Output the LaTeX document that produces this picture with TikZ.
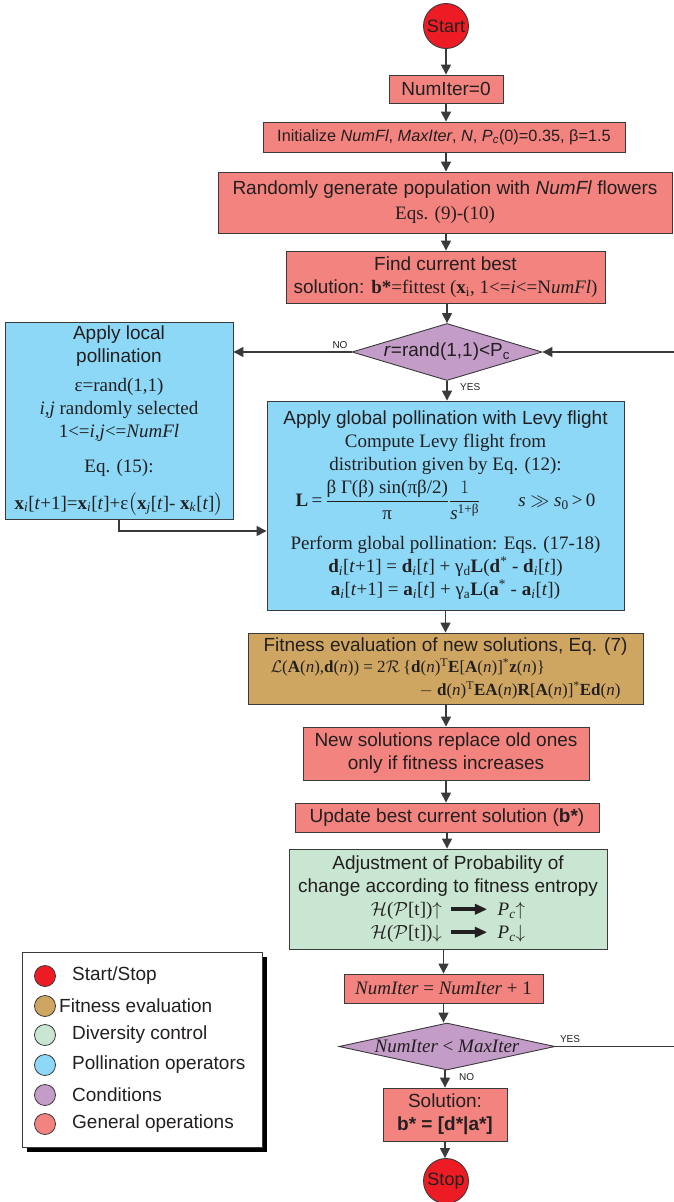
\RequirePackage{fix-cm}
\documentclass[tikz,border=0pt]{standalone}
\usepackage{amsmath,amssymb}
\usepackage{fontspec}
\setmainfont{Liberation Serif}
\setsansfont{Liberation Sans}
\newfontfamily\tms{Liberation Serif}
\usetikzlibrary{shapes.geometric,arrows.meta,calc}
\definecolor{genC}{RGB}{242,131,126}
\definecolor{pollC}{RGB}{140,216,246}
\definecolor{fitC}{RGB}{207,166,97}
\definecolor{divC}{RGB}{200,230,210}
\definecolor{condC}{RGB}{195,156,200}
\definecolor{termC}{RGB}{237,28,36}
\definecolor{lineC}{RGB}{58,58,58}
\definecolor{txt}{RGB}{35,31,32}
\newcommand\fatarrow{\rule[0.25em]{26pt}{3.2pt}\kern-4pt\raisebox{0.02em}{$\blacktriangleright$}}
\tikzset{
  base/.style={draw=lineC, line width=0.9pt, text=txt, font=\sffamily\fontsize{19}{23}\selectfont, align=center, inner sep=2pt},
  genop/.style={base, rectangle, fill=genC},
  poll/.style={base, rectangle, fill=pollC},
  fitbox/.style={base, rectangle, fill=fitC},
  divbox/.style={base, rectangle, fill=divC},
  condbox/.style={base, diamond, fill=condC, inner sep=0pt},
  term/.style={base, circle, fill=termC, minimum size=45pt, inner sep=0pt, font=\sffamily\fontsize{18}{20}\selectfont},
  flow/.style={line width=1.5pt, draw=lineC, -{Triangle[width=10pt,length=10pt]}},
  lab/.style={font=\sffamily\fontsize{10}{12}\selectfont, text=txt, inner sep=1pt},
  legc/.style={circle, draw=lineC, line width=0.8pt, minimum size=21pt, inner sep=0pt},
  legt/.style={anchor=west, text=txt, font=\sffamily\fontsize{19}{23}\selectfont, inner sep=0pt}
}
\begin{document}
\begin{tikzpicture}[x=1pt,y=-1pt]
\useasboundingbox (0,0) rectangle (674,1202);

% main column
\node[term] (start) at (446,26) {Start};
\node[genop, minimum width=114pt, minimum height=28pt] (numiter) at (446,89) {NumIter=0};
\node[genop, minimum width=362pt, minimum height=30pt, font=\sffamily\fontsize{16.3}{20}\selectfont] (init) at (444,137)
  {Initialize \textit{NumFl}, \textit{MaxIter}, \textit{N}, \textit{P}\textsubscript{\textit{c}}(0)=0.35, β=1.5};
\node[genop, minimum width=454pt, minimum height=61pt] (randpop) at (445,202.5)
  {Randomly generate population with \textit{NumFl} flowers\\[2pt] {\tms Eqs. (9)-(10)}};
\node[genop, minimum width=319pt, minimum height=52pt] (find) at (445.5,277)
  {Find current best\\ solution: {\tms\textbf{b*}=fittest (\textbf{x}\textsubscript{i}, 1<=\textit{i}<=N\textit{umFl})}};
\node[condbox, shape aspect=3.3, minimum width=190pt, minimum height=57pt] (cond) at (447,352)
  {\textit{r}=rand(1,1)<P\textsubscript{c}};

\node[poll, minimum width=228pt, minimum height=197pt] (local) at (119,420.5)
  {\fontsize{19}{21}\selectfont Apply local\\ pollination\\[6pt]
   {\tms ε=rand(1,1)}\\
   {\tms\textit{i,j} randomly selected}\\
   {\tms 1<=\textit{i,j}<=\textit{NumFl}}\\[12pt]
   {\tms Eq. (15):}\\[14pt]
   {\tms \textbf{x}\textsubscript{\textit{i}}[\textit{t}+1]=\textbf{x}\textsubscript{\textit{i}}[\textit{t}]+ε$\bigl($\textbf{x}\textsubscript{\textit{j}}[\textit{t}]- \textbf{x}\textsubscript{\textit{k}}[\textit{t}]$\bigr)$}};

\node[poll, minimum width=357pt, minimum height=209pt] (global) at (445.5,505.5)
  {Apply global pollination with Levy flight\\
   {\tms Compute Levy flight from}\\
   {\tms distribution given by Eq. (12):}\\[4pt]
   {\tms \textbf{L}\,=\,$\dfrac{\text{β Γ(β) sin(πβ/2)}}{\text{π}}\dfrac{1}{\text{\textit{s}}^{\text{1+β}}}$\qquad \textit{s} $\gg$ \textit{s}\textsubscript{0}\,>\,0}\\[16pt]
   {\tms Perform global pollination: Eqs. (17-18)}\\
   {\tms \textbf{d}\textsubscript{\textit{i}}[\textit{t}+1] = \textbf{d}\textsubscript{\textit{i}}[\textit{t}] + γ\textsubscript{d}\textbf{L}(\textbf{d}\textsuperscript{*} - \textbf{d}\textsubscript{\textit{i}}[\textit{t}])}\\
   {\tms \textbf{a}\textsubscript{\textit{i}}[\textit{t}+1] = \textbf{a}\textsubscript{\textit{i}}[\textit{t}] + γ\textsubscript{a}\textbf{L}(\textbf{a}\textsuperscript{*} - \textbf{a}\textsubscript{\textit{i}}[\textit{t}])}};

\node[fitbox, minimum width=395pt, minimum height=71pt] (fitness) at (445.5,668.5)
  {Fitness evaluation of new solutions, Eq. (7)\\[-2pt]
   {\tms\fontsize{17}{22}\selectfont\makebox[350pt][l]{$\mathcal{L}$(\textbf{A}(\textit{n}),\textbf{d}(\textit{n})) = 2$\mathcal{R}$\,\{\textbf{d}(\textit{n})\textsuperscript{T}\textbf{E}[\textbf{A}(\textit{n})]\textsuperscript{*}\textbf{z}(\textit{n})\}}}\\
   {\tms\fontsize{17}{22}\selectfont\makebox[350pt][r]{$-$ \textbf{d}(\textit{n})\textsuperscript{T}\textbf{EA}(\textit{n})\textbf{R}[\textbf{A}(\textit{n})]\textsuperscript{*}\textbf{Ed}(\textit{n})}}};

\node[genop, minimum width=286pt, minimum height=53pt] (replace) at (446,753.5)
  {New solutions replace old ones\\ only if fitness increases};
\node[genop, minimum width=304pt, minimum height=29pt] (update) at (447,817.5)
  {Update best current solution (\textbf{b*})};
\node[divbox, minimum width=318pt, minimum height=100pt] (adjust) at (448,899)
  {\fontsize{19}{22}\selectfont Adjustment of Probability of\\ change according to fitness entropy\\
   {\tms $\mathcal{H}$($\mathcal{P}$[t])$\uparrow$\ \ \fatarrow\ \ \textit{P}\textsubscript{\textit{c}}$\uparrow$}\\
   {\tms $\mathcal{H}$($\mathcal{P}$[t])$\downarrow$\ \ \fatarrow\ \ \textit{P}\textsubscript{\textit{c}}$\downarrow$}};
\node[genop, minimum width=199pt, minimum height=29pt] (inc) at (443.5,988.5)
  {\tms\textit{NumIter} = \textit{NumIter} + 1};
\node[condbox, shape aspect=4.6, minimum width=216pt, minimum height=47pt] (cond2) at (447,1046.5)
  {\tms\textit{NumIter} < \textit{MaxIter}};
\node[genop, minimum width=124pt, minimum height=53pt] (sol) at (445,1114.5)
  {Solution:\\ \textbf{b* = [d*|a*]}};
\node[term] (stop) at (446,1181) {Stop};

% connectors
\draw[flow] (start) -- (start |- numiter.north);
\draw[flow] (numiter) -- (numiter |- init.north);
\draw[flow] (init.south -| numiter) -- (numiter |- randpop.north);
\draw[flow] (randpop.south -| numiter) -- (numiter |- find.north);
\draw[flow] (find.south -| cond) -- (cond.north);
\draw[flow] (cond.west) -- (cond.west -| local.east);
\draw[flow] (cond.south) -- (cond |- global.north);
\coordinate (bend) at (119,531);
\draw[flow] (local.south) -- (bend) -- (bend -| global.west);
\draw[flow] (global.south -| fitness) -- (fitness.north);
\draw[flow] (fitness.south -| replace) -- (replace.north);
\draw[flow] (replace.south) -- (replace |- update.north);
\draw[flow] (update.south) -- (update |- adjust.north);
\draw[flow] (adjust.south -| inc) -- (inc.north);
\draw[flow] (inc.south) -- (inc |- cond2.north);
\draw[flow] (cond2.south -| sol) -- (sol.north);
\draw[flow] (sol.south) -- (sol |- stop.north);
\coordinate (loopR) at (678,700);
\draw[flow] (cond2.east) -- (cond2.east -| loopR) -- (cond.east -| loopR) -- (cond.east);

% edge labels
\node[lab] (no1) at (340,345) {NO};
\node[lab, anchor=west] (yes1) at (459,387) {YES};
\node[lab] (yes2) at (570,1039) {YES};
\node[lab, anchor=west] (no2) at (458,1077) {NO};

% legend
\fill[black] (27,957) rectangle (267,1152);
\node[draw=lineC, line width=0.8pt, fill=white, minimum width=240pt, minimum height=195pt, inner sep=0pt] (legend) at (142,1049.5) {};
\node[legc, fill=termC] (lc1) at (45,976) {};
\node[legt] (lt1) at (72,976) {Start/Stop};
\node[legc, fill=fitC] (lc2) at (45,1006) {};
\node[legt] (lt2) at (59,1006) {Fitness evaluation};
\node[legc, fill=divC] (lc3) at (45,1035) {};
\node[legt] (lt3) at (72,1035) {Diversity control};
\node[legc, fill=pollC] (lc4) at (45,1065) {};
\node[legt] (lt4) at (72,1065) {Pollination operators};
\node[legc, fill=condC] (lc5) at (45,1095) {};
\node[legt] (lt5) at (72,1095) {Conditions};
\node[legc, fill=genC] (lc6) at (45,1124) {};
\node[legt] (lt6) at (72,1124) {General operations};
\end{tikzpicture}
\end{document}
